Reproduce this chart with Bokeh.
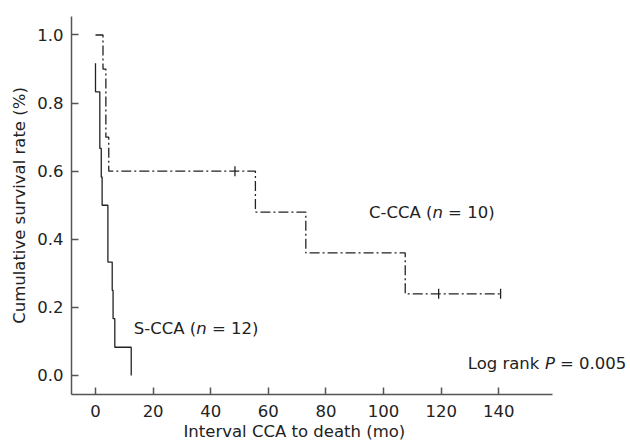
import numpy as np
from bokeh.plotting import figure
from bokeh.models import Range1d, FixedTicker, Label, Title
from bokeh.embed import file_html
from bokeh.resources import INLINE

# ---- data ----
# S-CCA (solid): step knots (time, survival after knot)
s_times = [0, 0, 1.5, 2.0, 2.3, 4.3, 5.8, 6.1, 6.7, 12.4]
s_surv = [0.917, 0.833, 0.667, 0.583, 0.5, 0.333, 0.25, 0.167, 0.083, 0.0]

# C-CCA (dash-dot): step knots
c_times = [0, 2.6, 3.6, 4.6, 55.5, 73.0, 107.5, 140.6]
c_surv = [1.0, 0.9, 0.7, 0.6, 0.48, 0.36, 0.24, 0.24]
c_censor_times = [48.4, 119.1, 140.6]
c_censor_surv = [0.6, 0.24, 0.24]

x_ticks = [0, 20, 40, 60, 80, 100, 120, 140]
y_ticks = [0.0, 0.2, 0.4, 0.6, 0.8, 1.0]
y_tick_labels = ["0.0", "0.2", "0.4", "0.6", "0.8", "1.0"]

x_title = "Interval CCA to death (mo)"
y_title = "Cumulative survival rate (%)"

FONT = "DejaVu Sans"
FS = "16.5px"
INK = "#222222"
AXC = "#555555"

X_AXIS_END = 158.6   # where the drawn x axis line stops

p = figure(width=626, height=446, output_backend="svg", toolbar_location=None,
           x_range=Range1d(-8.33, 184.3), y_range=Range1d(-0.0558, 1.0543),
           min_border_left=71, min_border_right=0, min_border_top=16,
           min_border_bottom=52)
p.outline_line_color = None
p.xgrid.visible = False
p.ygrid.visible = False
p.background_fill_color = "white"
p.border_fill_color = "white"

for ax in (p.xaxis[0], p.yaxis[0]):
    ax.axis_line_color = AXC
    ax.axis_line_width = 1.5
    ax.major_tick_line_color = AXC
    ax.major_tick_line_width = 1.5
    ax.major_tick_in = 7
    ax.major_tick_out = 0
    ax.minor_tick_line_color = None
    ax.major_label_text_font = FONT
    ax.major_label_text_font_size = FS
    ax.major_label_text_color = INK
    ax.axis_label_text_font = FONT
    ax.axis_label_text_font_size = FS
    ax.axis_label_text_font_style = "normal"
    ax.axis_label_text_color = INK

p.xaxis[0].ticker = FixedTicker(ticks=x_ticks)
p.xaxis[0].bounds = (-8.33, X_AXIS_END)
p.xaxis[0].major_label_standoff = 10
p.yaxis[0].ticker = FixedTicker(ticks=y_ticks)
p.yaxis[0].major_label_overrides = {t: l for t, l in zip(y_ticks, y_tick_labels)}
p.yaxis[0].major_label_standoff = 8
p.yaxis[0].axis_label = y_title
p.yaxis[0].axis_label_standoff = 5

# x axis title, placed below the axis (left-aligned with an offset as in the reference)
p.add_layout(Title(text=x_title, align="left", offset=112, standoff=0,
                   text_font=FONT, text_font_size=FS, text_font_style="normal",
                   text_color=INK), "below")

# curves
p.step(s_times, s_surv, mode="after", line_color=INK, line_width=1.3)
p.step(c_times, c_surv, mode="after", line_color=INK, line_width=1.3,
       line_dash="10 3 2 3")
p.scatter(c_censor_times, c_censor_surv, marker="dash", angle=np.pi / 2,
          size=10, line_color=INK, line_width=1.3)

# in-plot labels (italic n / P)
def rich(x, y, pieces):
    for txt, style, off in pieces:
        p.add_layout(Label(x=x, y=y, text=txt, x_offset=off,
                           text_font=FONT, text_font_size=FS, text_font_style=style,
                           text_color=INK, text_baseline="alphabetic", text_align="left"))

rich(94.9, 0.479, [("C-CCA (", "normal", 0), ("n", "italic", 63.5), ("= 10)", "normal", 79.2)])
rich(13.3, 0.137, [("S-CCA (", "normal", 0), ("n", "italic", 62.4), ("= 12)", "normal", 78.1)])
rich(129.2, 0.034, [("Log rank", "normal", 0), ("P", "italic", 77.2), ("= 0.005", "normal", 92.3)])

open("out.html", "w").write(file_html(p, INLINE))
